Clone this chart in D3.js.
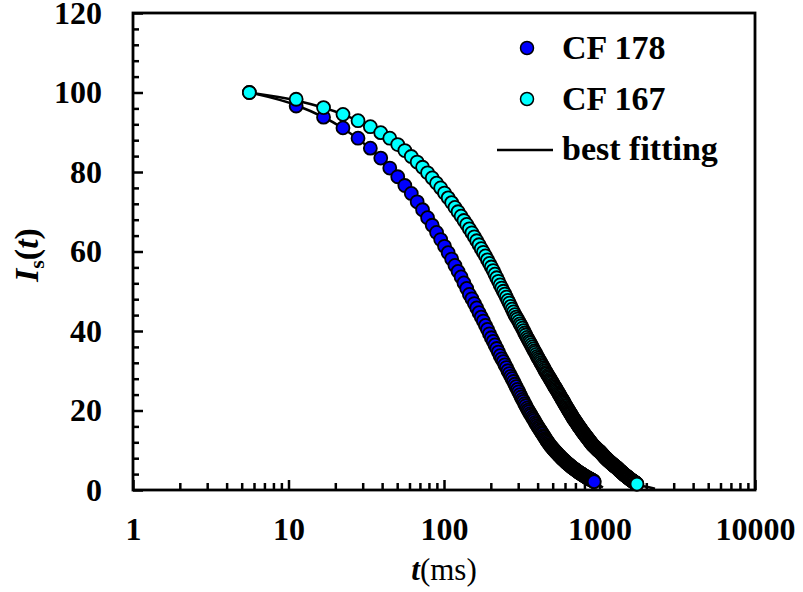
<!DOCTYPE html>
<html>
<head>
<meta charset="utf-8">
<script src="https://cdn.jsdelivr.net/npm/d3@7"></script>
<style>
body { margin: 0; background: #fff; }
text { font-family: "Liberation Serif", "Times New Roman", serif; }
</style>
</head>
<body>
<div id="chart"></div>
<script>
// lag time (ms), one sample every 5.6 ms
var lagTime = [
  5.6, 11.2, 16.8, 22.4, 28, 33.6, 39.2, 44.8, 50.4, 56,
  61.6, 67.2, 72.8, 78.4, 84, 89.6, 95.2, 100.8, 106.4, 112,
  117.6, 123.2, 128.8, 134.4, 140, 145.6, 151.2, 156.8, 162.4, 168,
  173.6, 179.2, 184.8, 190.4, 196, 201.6, 207.2, 212.8, 218.4, 224,
  229.6, 235.2, 240.8, 246.4, 252, 257.6, 263.2, 268.8, 274.4, 280,
  285.6, 291.2, 296.8, 302.4, 308, 313.6, 319.2, 324.8, 330.4, 336,
  341.6, 347.2, 352.8, 358.4, 364, 369.6, 375.2, 380.8, 386.4, 392,
  397.6, 403.2, 408.8, 414.4, 420, 425.6, 431.2, 436.8, 442.4, 448,
  453.6, 459.2, 464.8, 470.4, 476, 481.6, 487.2, 492.8, 498.4, 504,
  509.6, 515.2, 520.8, 526.4, 532, 537.6, 543.2, 548.8, 554.4, 560,
  565.6, 571.2, 576.8, 582.4, 588, 593.6, 599.2, 604.8, 610.4, 616,
  621.6, 627.2, 632.8, 638.4, 644, 649.6, 655.2, 660.8, 666.4, 672,
  677.6, 683.2, 688.8, 694.4, 700, 705.6, 711.2, 716.8, 722.4, 728,
  733.6, 739.2, 744.8, 750.4, 756, 761.6, 767.2, 772.8, 778.4, 784,
  789.6, 795.2, 800.8, 806.4, 812, 817.6, 823.2, 828.8, 834.4, 840,
  845.6, 851.2, 856.8, 862.4, 868, 873.6, 879.2, 884.8, 890.4, 896,
  901.6, 907.2, 912.8, 918.4, 924, 929.6, 935.2, 940.8, 946.4, 952,
  957.6, 963.2, 968.8, 974.4, 980, 985.6, 991.2, 996.8, 1002.4, 1008,
  1013.6, 1019.2, 1024.8, 1030.4, 1036, 1041.6, 1047.2, 1052.8, 1058.4, 1064,
  1069.6, 1075.2, 1080.8, 1086.4, 1092, 1097.6, 1103.2, 1108.8, 1114.4, 1120,
  1125.6, 1131.2, 1136.8, 1142.4, 1148, 1153.6, 1159.2, 1164.8, 1170.4, 1176,
  1181.6, 1187.2, 1192.8, 1198.4, 1204, 1209.6, 1215.2, 1220.8, 1226.4, 1232,
  1237.6, 1243.2, 1248.8, 1254.4, 1260, 1265.6, 1271.2, 1276.8, 1282.4, 1288,
  1293.6, 1299.2, 1304.8, 1310.4, 1316, 1321.6, 1327.2, 1332.8, 1338.4, 1344,
  1349.6, 1355.2, 1360.8, 1366.4, 1372, 1377.6, 1383.2, 1388.8, 1394.4, 1400,
  1405.6, 1411.2, 1416.8, 1422.4, 1428, 1433.6, 1439.2, 1444.8, 1450.4, 1456,
  1461.6, 1467.2, 1472.8, 1478.4, 1484, 1489.6, 1495.2, 1500.8, 1506.4, 1512,
  1517.6, 1523.2, 1528.8, 1534.4, 1540, 1545.6, 1551.2, 1556.8, 1562.4, 1568,
  1573.6, 1579.2, 1584.8, 1590.4, 1596, 1601.6, 1607.2, 1612.8, 1618.4, 1624,
  1629.6, 1635.2, 1640.8, 1646.4, 1652, 1657.6, 1663.2, 1668.8, 1674.4, 1680,
  1685.6, 1691.2, 1696.8, 1702.4, 1708, 1713.6, 1719.2, 1724.8, 1730.4, 1736,
  1741.6
];

// Is(t) for CF 178 (first 165 lag times)
var cf178 = [
  100, 96.6, 93.8, 91.1, 88.5, 86.0, 83.5, 81.0, 78.8, 76.6,
  74.6, 72.5, 70.5, 68.5, 66.6, 64.8, 63.0, 61.3, 59.7, 58.1,
  56.5, 55.0, 53.6, 52.1, 50.7, 49.2, 48.1, 46.9, 45.8, 44.6,
  43.5, 42.5, 41.4, 40.4, 39.3, 38.3, 37.4, 36.5, 35.6, 34.7,
  33.8, 33.0, 32.3, 31.5, 30.8, 30.0, 29.3, 28.6, 28.0, 27.3,
  26.6, 26.0, 25.3, 24.7, 24.0, 23.4, 22.8, 22.3, 21.7, 21.2,
  20.6, 20.1, 19.7, 19.2, 18.8, 18.3, 17.9, 17.5, 17.0, 16.6,
  16.2, 15.8, 15.5, 15.1, 14.8, 14.4, 14.1, 13.7, 13.4, 13.0,
  12.7, 12.4, 12.1, 11.8, 11.5, 11.2, 11.0, 10.8, 10.5, 10.3,
  10.1, 9.9, 9.7, 9.5, 9.3, 9.1, 8.9, 8.7, 8.6, 8.4,
  8.2, 8.0, 7.9, 7.7, 7.6, 7.4, 7.3, 7.1, 7.0, 6.8,
  6.7, 6.6, 6.5, 6.3, 6.2, 6.1, 6.0, 5.8, 5.7, 5.6,
  5.5, 5.4, 5.3, 5.2, 5.1, 5.0, 4.9, 4.8, 4.7, 4.6,
  4.5, 4.4, 4.3, 4.3, 4.2, 4.1, 4.0, 3.9, 3.9, 3.8,
  3.7, 3.6, 3.5, 3.5, 3.4, 3.3, 3.2, 3.2, 3.1, 3.1,
  3.0, 2.9, 2.9, 2.8, 2.8, 2.7, 2.6, 2.6, 2.5, 2.5,
  2.4, 2.3, 2.3, 2.2, 2.1
];

// Is(t) for CF 167
var cf167 = [
  100, 98.3, 96.2, 94.5, 92.9, 91.4, 89.9, 88.5, 86.9, 85.4,
  83.9, 82.5, 81.2, 79.8, 78.5, 77.2, 76.0, 74.7, 73.5, 72.3,
  71.1, 70.0, 68.9, 67.8, 66.8, 65.7, 64.7, 63.7, 62.7, 61.7,
  60.7, 59.8, 58.9, 57.9, 57.0, 56.1, 55.2, 54.3, 53.4, 52.5,
  51.6, 50.8, 50.0, 49.3, 48.5, 47.7, 47.0, 46.2, 45.5, 44.8,
  44.1, 43.5, 43.0, 42.4, 41.8, 41.3, 40.7, 40.1, 39.5, 39.0,
  38.4, 37.9, 37.4, 37.0, 36.5, 36.0, 35.5, 35.0, 34.6, 34.1,
  33.6, 33.2, 32.8, 32.4, 32.0, 31.6, 31.2, 30.8, 30.4, 30.0,
  29.6, 29.3, 28.9, 28.6, 28.3, 27.9, 27.6, 27.3, 27.0, 26.6,
  26.3, 26.0, 25.7, 25.4, 25.1, 24.8, 24.5, 24.2, 23.9, 23.6,
  23.3, 23.0, 22.7, 22.5, 22.2, 21.9, 21.6, 21.3, 21.1, 20.8,
  20.5, 20.3, 20.0, 19.8, 19.5, 19.3, 19.1, 18.8, 18.6, 18.3,
  18.1, 17.9, 17.7, 17.5, 17.3, 17.1, 16.9, 16.7, 16.5, 16.3,
  16.1, 15.9, 15.7, 15.6, 15.4, 15.2, 15.0, 14.8, 14.7, 14.5,
  14.3, 14.2, 14.0, 13.9, 13.7, 13.6, 13.4, 13.3, 13.1, 13.0,
  12.8, 12.7, 12.5, 12.4, 12.2, 12.1, 12.0, 11.8, 11.7, 11.5,
  11.4, 11.3, 11.2, 11.1, 11.0, 10.9, 10.8, 10.7, 10.6, 10.5,
  10.4, 10.3, 10.2, 10.1, 10.0, 9.9, 9.9, 9.8, 9.7, 9.6,
  9.5, 9.4, 9.3, 9.2, 9.1, 9.0, 8.9, 8.8, 8.7, 8.6,
  8.5, 8.4, 8.3, 8.2, 8.1, 8.0, 8.0, 7.9, 7.8, 7.7,
  7.6, 7.5, 7.5, 7.4, 7.3, 7.2, 7.2, 7.1, 7.0, 6.9,
  6.9, 6.8, 6.7, 6.7, 6.6, 6.5, 6.5, 6.4, 6.3, 6.3,
  6.2, 6.1, 6.1, 6.0, 6.0, 5.9, 5.8, 5.8, 5.7, 5.7,
  5.6, 5.5, 5.5, 5.4, 5.3, 5.3, 5.2, 5.1, 5.0, 5.0,
  4.9, 4.8, 4.8, 4.7, 4.7, 4.6, 4.5, 4.5, 4.4, 4.4,
  4.3, 4.2, 4.2, 4.1, 4.1, 4.0, 3.9, 3.9, 3.8, 3.8,
  3.7, 3.7, 3.6, 3.6, 3.5, 3.5, 3.4, 3.4, 3.3, 3.3,
  3.2, 3.2, 3.1, 3.1, 3.0, 3.0, 2.9, 2.9, 2.8, 2.8,
  2.7, 2.7, 2.6, 2.6, 2.5, 2.5, 2.5, 2.4, 2.4, 2.3,
  2.3, 2.3, 2.2, 2.2, 2.1, 2.1, 2.1, 2.0, 2.0, 1.9,
  1.9, 1.9, 1.8, 1.8, 1.7, 1.7, 1.7, 1.6, 1.6, 1.5,
  1.5
];

// best fitting curves
var fitTime178 = [5.6, 11.2, 22.4, 39.2, 61.6, 100.8, 145.6, 201.6, 257.6, 341.6, 453.6, 565.6, 705.6, 840, 924, 1000, 1052];
var fit178 = [100, 96.8, 91.0, 83.4, 74.5, 61.3, 49.3, 38.4, 30.1, 20.8, 12.6, 8.1, 4.9, 2.9, 1.9, 1.2, 0.6];
var fitTime167 = [5.6, 11.2, 22.4, 39.2, 61.6, 100.8, 145.6, 201.6, 257.6, 341.6, 453.6, 565.6, 705.6, 840, 1008, 1232, 1456, 1741.6, 2000, 2275];
var fit167 = [100, 98.0, 94.5, 89.9, 83.9, 74.6, 65.7, 56.1, 47.7, 38.3, 29.5, 23.2, 17.1, 12.9, 9.6, 6.3, 3.8, 1.4, 0.8, 0.3];

var xMajor = [1, 10, 100, 1000, 10000];
var yMajor = [0, 20, 40, 60, 80, 100, 120];

var series = [
  {name: "CF 178", values: cf178, fitT: fitTime178, fitV: fit178, color: "#0000ff"},
  {name: "CF 167", values: cf167, fitT: fitTime167, fitV: fit167, color: "#00ffff"}
];

var W = 803, H = 592;
var plotLeft = 133, plotRight = 755, plotTop = 13, plotBottom = 490;

var svg = d3.select("#chart").append("svg")
    .attr("width", W)
    .attr("height", H);

var x = d3.scaleLog().domain([1, 10000]).range([plotLeft, plotRight]);
var y = d3.scaleLinear().domain([0, 120]).range([plotBottom, plotTop]);

// minor ticks
var xMinor = x.ticks().filter(function(d){ return xMajor.indexOf(d) < 0; });
var yMinor = d3.range(0, 121, 4).filter(function(d){ return d % 20 != 0; });

svg.append("g")
    .attr("transform", "translate(0," + plotBottom + ")")
    .call(d3.axisBottom(x).tickValues(xMinor).tickSize(-7).tickFormat(""))
    .call(function(g){ g.select(".domain").remove(); });

svg.append("g")
    .attr("transform", "translate(" + plotLeft + ",0)")
    .call(d3.axisLeft(y).tickValues(yMinor).tickSize(-6).tickFormat(""))
    .call(function(g){ g.select(".domain").remove(); });

var xAxis = svg.append("g")
    .attr("transform", "translate(0," + plotBottom + ")")
    .call(d3.axisBottom(x).tickValues(xMajor).tickSize(-10).tickPadding(27)
          .tickFormat(d3.format("d")));
xAxis.select(".domain").remove();

var yAxis = svg.append("g")
    .attr("transform", "translate(" + plotLeft + ",0)")
    .call(d3.axisLeft(y).tickValues(yMajor).tickSize(-10).tickPadding(31));
yAxis.select(".domain").remove();

svg.selectAll(".tick line").attr("stroke", "#000").attr("stroke-width", 2.5);
svg.selectAll(".tick text")
    .attr("fill", "#000")
    .attr("font-size", 32)
    .attr("font-weight", "bold")
    .style("font-family", "'Liberation Serif', 'Times New Roman', serif");

// frame
svg.append("rect")
    .attr("x", plotLeft)
    .attr("y", plotTop)
    .attr("width", plotRight - plotLeft)
    .attr("height", plotBottom - plotTop)
    .attr("fill", "none")
    .attr("stroke", "#000")
    .attr("stroke-width", 2.8);

// fitting lines
var line = d3.line()
    .x(function(d){ return x(d[0]); })
    .y(function(d){ return y(d[1]); })
    .curve(d3.curveMonotoneX);

series.forEach(function(s){
    svg.append("path")
        .datum(d3.zip(s.fitT, s.fitV))
        .attr("d", line)
        .attr("fill", "none")
        .attr("stroke", "#000")
        .attr("stroke-width", 2.5);
});

// data points
series.forEach(function(s){
    svg.append("g").selectAll("circle")
        .data(s.values.map(function(v, i){ return [lagTime[i], v]; }))
        .enter().append("circle")
        .attr("cx", function(d){ return x(d[0]); })
        .attr("cy", function(d){ return y(d[1]); })
        .attr("r", 6.5)
        .attr("fill", s.color)
        .attr("stroke", "#000")
        .attr("stroke-width", 1.8);
});

// legend
var legend = svg.append("g");
series.forEach(function(s, i){
    legend.append("circle")
        .attr("cx", 527)
        .attr("cy", 48 + i * 51)
        .attr("r", 6.5)
        .attr("fill", s.color)
        .attr("stroke", "#000")
        .attr("stroke-width", 1.5);
    legend.append("text")
        .attr("x", 562)
        .attr("y", 59 + i * 51)
        .attr("font-size", 34)
        .attr("font-weight", "bold")
        .text(s.name);
});
legend.append("line")
    .attr("x1", 497).attr("x2", 553)
    .attr("y1", 150).attr("y2", 150)
    .attr("stroke", "#000")
    .attr("stroke-width", 2.5);
legend.append("text")
    .attr("x", 562)
    .attr("y", 160)
    .attr("font-size", 34)
    .attr("font-weight", "bold")
    .text("best fitting");

// axis titles
var xt = svg.append("text")
    .attr("x", 444)
    .attr("y", 580)
    .attr("text-anchor", "middle")
    .attr("font-size", 31);
xt.append("tspan").attr("font-weight", "bold").attr("font-style", "italic").text("t");
xt.append("tspan").text("(ms)");

var yt = svg.append("text")
    .attr("transform", "translate(38,255) rotate(-90)")
    .attr("text-anchor", "middle")
    .attr("font-size", 34)
    .attr("font-weight", "bold");
yt.append("tspan").attr("font-style", "italic").text("I");
yt.append("tspan").attr("font-size", 22).attr("dy", 6).text("s");
yt.append("tspan").attr("dy", -6).text("(");
yt.append("tspan").attr("font-style", "italic").text("t");
yt.append("tspan").text(")");
</script>
</body>
</html>
